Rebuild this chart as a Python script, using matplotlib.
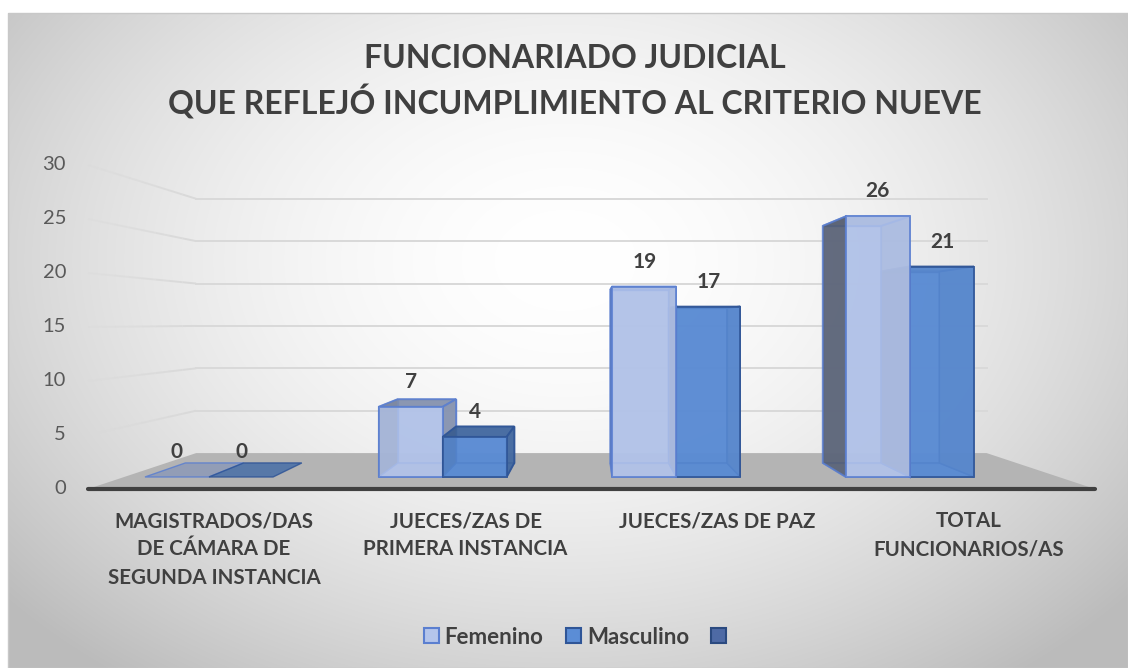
import numpy as np
import matplotlib.pyplot as plt
from matplotlib.patches import Polygon, Patch, Rectangle

categorias = ['MAGISTRADOS/DAS\nDE CÁMARA DE\nSEGUNDA INSTANCIA',
              'JUECES/ZAS DE\nPRIMERA INSTANCIA',
              'JUECES/ZAS DE PAZ',
              'TOTAL\nFUNCIONARIOS/AS']
femenino = [0, 7, 19, 26]
masculino = [0, 4, 17, 21]
serie3 = [None, None, None, None]
nombres = ['Femenino', 'Masculino', '']
ticks = [0, 5, 10, 15, 20, 25, 30]
titulo = 'FUNCIONARIADO JUDICIAL\nQUE REFLEJÓ INCUMPLIMIENTO AL CRITERIO NUEVE'

colores = ['#B4C5EB', '#5B8DD6', '#4E6AA5']
bordes = ['#5B7FD0', '#2F5597', '#2B4A80']

W, H = 1128, 668
VPX, VPY = 591, 322      # punto de fuga
Y0, PXU = 489, 10.8      # plano frontal: y del 0 y px por unidad
FL, FR = 88, 1095        # borde frontal del piso
S_BACK = 0.785           # escala de la pared del fondo
S_F, S_B = 0.928, 0.844  # caras frontal y trasera de las barras
BAR_W = 69
CW = (FR - FL) / len(categorias)

FUENTE = ['Lato', 'DejaVu Sans']
GRIS = '#404040'


def proj(X, v, s):
    Y = Y0 - v * PXU
    return (VPX + s * (X - VPX), VPY + s * (Y - VPY))


def sombra(c, f):
    r, g, b = [int(c[i:i + 2], 16) / 255 for i in (1, 3, 5)]
    return (r * f, g * f, b * f)


fig = plt.figure(figsize=(W / 100, H / 100), dpi=100)
ax = fig.add_axes([0, 0, 1, 1])
ax.set_xlim(0, W)
ax.set_ylim(H, 0)
ax.axis('off')

# fondo con degradado radial
yy, xx = np.mgrid[0:H, 0:W]
r = np.sqrt(((xx - 565) / 700) ** 2 + ((yy - 260) / 500) ** 2)
val = 255 - 62 * np.clip(r, 0, 1.05) ** 1.8
img = np.dstack([val, val, val]) / 255
img[:13, :] = 1
img[:, :8] = 1
ax.imshow(img, extent=(0, W, H, 0), zorder=0)
ax.add_patch(Rectangle((8, 13), W - 8, H - 13, fill=False, ec='#C8C8C8', lw=1, zorder=1))

# lineas de division
for t in ticks[1:]:
    x1, y1 = proj(FL, t, S_BACK)
    x2, y2 = proj(FR, t, S_BACK)
    ax.plot([x1, x2], [y1, y2], color='#D9D9D9', lw=1.4, zorder=2)
    xa, ya = proj(FL, t, 1)
    n = 8
    for k in range(n):
        pa = (xa + (x1 - xa) * k / n, ya + (y1 - ya) * k / n)
        pb = (xa + (x1 - xa) * (k + 1) / n, ya + (y1 - ya) * (k + 1) / n)
        ax.plot([pa[0], pb[0]], [pa[1], pb[1]], color='#D9D9D9', lw=1.4,
                alpha=0.2 + 0.8 * (k + 1) / n, zorder=2, solid_capstyle='butt')

for t in ticks:
    ax.text(66, proj(FL, t, 1)[1], str(t), ha='right', va='center',
            fontsize=14.5, color='#595959', family=FUENTE)

# piso
piso = [proj(FL, 0, 1), proj(FR, 0, 1), proj(FR, 0, S_BACK), proj(FL, 0, S_BACK)]
ax.add_patch(Polygon(piso, closed=True, fc='#B4B4B4', ec='none', zorder=3))
ax.plot([FL, FR], [Y0, Y0], color='#404040', lw=3, zorder=3, solid_capstyle='round')


def caja(x0, x1, v, color, borde, z):
    fbl, fbr = proj(x0, 0, S_F), proj(x1, 0, S_F)
    ftl, ftr = proj(x0, v, S_F), proj(x1, v, S_F)
    bbl, bbr = proj(x0, 0, S_B), proj(x1, 0, S_B)
    btl, btr = proj(x0, v, S_B), proj(x1, v, S_B)
    top = ([ftl, ftr, btr, btl], 0.72)
    if v == 0:
        ax.add_patch(Polygon(top[0], closed=True, fc=sombra(color, 0.78), ec=borde,
                             lw=1, alpha=0.85, zorder=z))
        return
    back = ([bbl, bbr, btr, btl], 0.92)
    bottom = ([fbl, fbr, bbr, bbl], 0.9)
    left = ([fbl, ftl, btl, bbl], 0.45)
    right = ([fbr, ftr, btr, bbr], 0.72)
    front = ([fbl, fbr, ftr, ftl], 1.0)
    centro = (x0 + x1) / 2
    if centro < VPX:
        orden = [back, bottom, left, top, right, front]
    else:
        orden = [back, bottom, right, top, left, front]
    for i, (pts, f) in enumerate(orden):
        interior = i < 3
        ax.add_patch(Polygon(pts, closed=True, fc=sombra(color, f), ec=borde,
                             lw=1.0 if interior else 1.4,
                             alpha=0.82, zorder=z + i * 0.01))


series = [femenino, masculino, serie3]
barras = []
for i in range(len(categorias)):
    c = FL + CW * (i + 0.5)
    for k, datos in enumerate(series):
        v = datos[i]
        if v is None:
            continue
        x0 = c + (k - 1.5) * BAR_W
        barras.append((abs((x0 + BAR_W / 2) - VPX), x0, v, k))

barras.sort(key=lambda b: -b[0])
for n, (_, x0, v, k) in enumerate(barras):
    caja(x0, x0 + BAR_W, v, colores[k], bordes[k], 5 + n * 0.1)
    xt = (proj(x0, v, S_F)[0] + proj(x0 + BAR_W, v, S_F)[0]) / 2
    yt = proj(x0, v, S_F)[1] - 25
    ax.text(xt, yt, str(v), ha='center', va='center', fontsize=15,
            fontweight='bold', color=GRIS, family=FUENTE, zorder=10)

# etiquetas de categoria
for i, cat in enumerate(categorias):
    ax.text(FL + CW * (i + 0.5), 511, cat, ha='center', va='top', fontsize=14.8,
            fontweight='bold', color=GRIS, family=FUENTE, linespacing=1.52)

ax.text(575, 82, titulo, ha='center', va='center', fontsize=23, fontweight='bold',
        color=GRIS, family=FUENTE, linespacing=1.37)

handles = [Patch(fc=colores[k], ec=bordes[k], lw=1.5) for k in range(3)]
fig.legend(handles, nombres, loc='center', bbox_to_anchor=(578 / W, 1 - 637 / H),
           ncol=3, frameon=False, handlelength=0.68, handleheight=0.68,
           handletextpad=0.27, columnspacing=1.0,
           prop={'family': FUENTE, 'weight': 'bold', 'size': 16}, labelcolor=GRIS)

fig.savefig('out.png', dpi=100)
